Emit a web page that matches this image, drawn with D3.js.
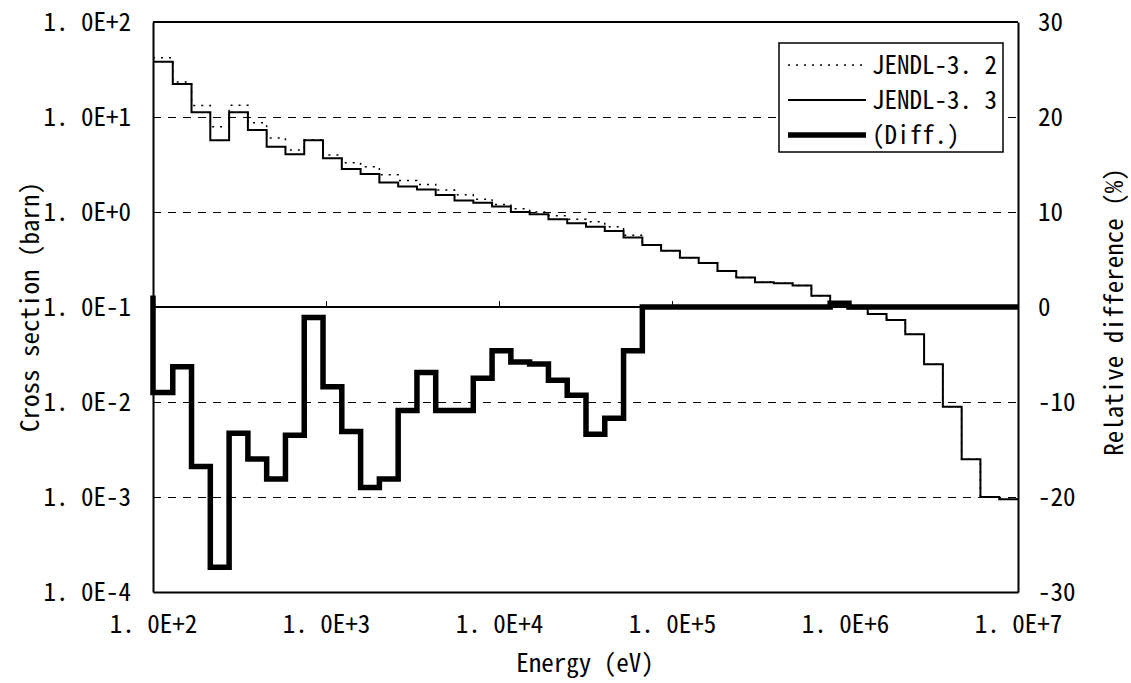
<!DOCTYPE html>
<html><head><meta charset="utf-8">
<script src="https://cdn.jsdelivr.net/npm/d3@7"></script>
<style>
body{margin:0;background:#fff}
svg{display:block}
text{font-family:"Noto Sans Mono CJK JP","DejaVu Sans Mono",monospace;fill:#000}
</style>
</head><body><svg id="c" width="1131" height="683"></svg>
<script>
// Energy group boundaries (eV), low to high
const groupBounds = [100, 130.1, 167.0, 214.4, 275.4, 353.6, 454.0, 582.9, 748.5, 961.1,
  1234, 1585, 2035, 2613, 3355, 4307, 5531, 7102, 9119, 11710,
  15030, 19310, 24790, 31830, 40870, 52480, 67380, 86520, 111100, 142600,
  183200, 235200, 302000, 387700, 497900, 639300, 820800, 1054000, 1353000, 1738000,
  2231000, 2865000, 3679000, 4724000, 6065000, 7788000, 10000000];
// Cross sections (barn) per group
const jendl33 = [38.2, 22.2, 11.2, 5.7, 11.2, 7.3, 4.86, 4.05, 5.7, 3.67,
  2.84, 2.51, 2.05, 1.85, 1.73, 1.51, 1.32, 1.25, 1.14, 1.0,
  0.946, 0.838, 0.76, 0.70, 0.63, 0.54, 0.45, 0.39, 0.33, 0.29,
  0.24, 0.204, 0.182, 0.178, 0.168, 0.131, 0.108, 0.097, 0.0843, 0.073,
  0.0516, 0.0249, 0.00893, 0.00249, 0.00100, 0.000946];
const jendl32 = [42.0, 23.3, 13.2, 7.9, 13.3, 8.7, 6.0, 4.5, 5.76, 3.98,
  3.3, 3.0, 2.47, 2.15, 1.95, 1.70, 1.52, 1.36, 1.20, 1.08,
  1.0, 0.915, 0.84, 0.79, 0.70, 0.57, 0.45, 0.39, 0.33, 0.29,
  0.24, 0.204, 0.182, 0.178, 0.168, 0.131, 0.1076, 0.097, 0.0843, 0.073,
  0.0516, 0.0249, 0.00893, 0.00249, 0.00100, 0.000946];
// Relative difference (%) per group
const diffPct = [-9.0, -6.3, -16.8, -27.4, -13.3, -16.0, -18.1, -13.5, -1.1, -8.4,
  -13.1, -19.0, -18.1, -10.9, -6.9, -10.9, -10.9, -7.5, -4.6, -5.8,
  -6.0, -7.7, -9.3, -13.4, -11.7, -4.6, 0, 0, 0, 0,
  0, 0, 0, 0, 0, 0, 0.4, 0, 0, 0,
  0, 0, 0, 0, 0, 0];
const diffLeadIn = 1.2;

const xTicks = [1e2, 1e3, 1e4, 1e5, 1e6, 1e7];
const xTickLabels = ["1. 0E+2", "1. 0E+3", "1. 0E+4", "1. 0E+5", "1. 0E+6", "1. 0E+7"];
const yLeftTicks = [1e-4, 1e-3, 1e-2, 1e-1, 1e0, 1e1, 1e2];
const yLeftLabels = ["1. 0E-4", "1. 0E-3", "1. 0E-2", "1. 0E-1", "1. 0E+0", "1. 0E+1", "1. 0E+2"];
const yRightTicks = [-30, -20, -10, 0, 10, 20, 30];
const yRightLabels = ["-30", "-20", "-10", "0", "10", "20", "30"];
const legendLabels = ["JENDL-3. 2", "JENDL-3. 3", "(Diff.)"];

const L = 153, R = 1018, T = 22, B = 592;
const svg = d3.select("#c");
const x = d3.scaleLog().domain([1e2, 1e7]).range([L, R]);
const yL = d3.scaleLog().domain([1e-4, 1e2]).range([B, T]);
const yR = d3.scaleLinear().domain([-30, 30]).range([B, T]);

// gridlines
const grid = svg.append("g").attr("shape-rendering", "crispEdges");
grid.selectAll("line").data(yLeftTicks.slice(1, -1)).join("line")
  .attr("x1", L).attr("x2", R)
  .attr("y1", d => yL(d)).attr("y2", d => yL(d))
  .attr("stroke", "#000")
  .attr("stroke-width", d => d === 1e-1 ? 1.5 : 1)
  .attr("stroke-dasharray", d => d === 1e-1 ? null : "8,7");
// small ticks on zero line
grid.selectAll("line.zt").data(xTicks.slice(1, -1)).join("line").attr("class", "zt")
  .attr("x1", d => x(d)).attr("x2", d => x(d))
  .attr("y1", yR(0)).attr("y2", yR(0) - 6)
  .attr("stroke", "#000").attr("stroke-width", 1);

function stepPts(vals) {
  const p = vals.map((v, i) => [groupBounds[i], v]);
  p.push([groupBounds[vals.length], vals[vals.length - 1]]);
  return p;
}
const lineL = d3.line().x(d => x(d[0])).y(d => yL(d[1])).curve(d3.curveStepAfter);
const lineR = d3.line().x(d => x(d[0])).y(d => yR(d[1])).curve(d3.curveStepAfter);

// JENDL-3.2 dotted
svg.append("path").attr("d", lineL(stepPts(jendl32)))
  .attr("fill", "none").attr("stroke", "#000").attr("stroke-width", 1.5)
  .attr("stroke-dasharray", "2,6");
// JENDL-3.3 solid
svg.append("path").attr("d", lineL(stepPts(jendl33)))
  .attr("fill", "none").attr("stroke", "#000").attr("stroke-width", 2);
// Diff thick (with short lead-in at the left edge)
svg.append("path").attr("d", "M" + x(groupBounds[0]) + "," + yR(diffLeadIn) + lineR(stepPts(diffPct)).replace(/^M/, "L"))
  .attr("fill", "none").attr("stroke", "#000").attr("stroke-width", 5.5)
  .attr("stroke-linejoin", "miter");

// axes
const fs = "25px";
svg.append("g").attr("transform", `translate(${L},0)`)
  .call(d3.axisLeft(yL).tickValues(yLeftTicks).tickFormat((d, i) => yLeftLabels[i]).tickSize(0).tickPadding(22));
svg.append("g").attr("transform", `translate(${R},0)`)
  .call(d3.axisRight(yR).tickValues(yRightTicks).tickFormat((d, i) => yRightLabels[i]).tickSize(0).tickPadding(20));
svg.append("g").attr("transform", `translate(0,${B})`)
  .call(d3.axisBottom(x).tickValues(xTicks).tickFormat((d, i) => xTickLabels[i]).tickSize(0).tickPadding(23));
svg.selectAll(".tick text").attr("font-size", fs).attr("font-family", null);
svg.selectAll(".domain").attr("stroke", "#000").attr("stroke-width", 2);
// top border
svg.append("line").attr("x1", L).attr("x2", R).attr("y1", T).attr("y2", T)
  .attr("stroke", "#000").attr("stroke-width", 2);

// titles
svg.append("text").attr("transform", "translate(39,307) rotate(-90)")
  .attr("text-anchor", "middle").attr("font-size", fs).text("Cross section (barn)");
svg.append("text").attr("transform", "translate(1123,312) rotate(-90)")
  .attr("text-anchor", "middle").attr("font-size", fs).text("Relative difference (%)");
svg.append("text").attr("x", 585).attr("y", 672)
  .attr("text-anchor", "middle").attr("font-size", fs).text("Energy (eV)");

// legend
const lg = svg.append("g");
lg.append("rect").attr("x", 779).attr("y", 43).attr("width", 224).attr("height", 109)
  .attr("fill", "#fff").attr("stroke", "#000").attr("stroke-width", 1.5);
const rows = [65, 100, 135];
const styles = [{w: 1.5, dash: "2,6"}, {w: 2, dash: null}, {w: 5.5, dash: null}];
rows.forEach((yy, i) => {
  lg.append("line").attr("x1", 788).attr("x2", 866).attr("y1", yy).attr("y2", yy)
    .attr("stroke", "#000").attr("stroke-width", styles[i].w)
    .attr("stroke-dasharray", styles[i].dash);
  lg.append("text").attr("x", 872).attr("y", yy + 9).attr("font-size", fs).text(legendLabels[i]);
});
</script>
</body></html>
